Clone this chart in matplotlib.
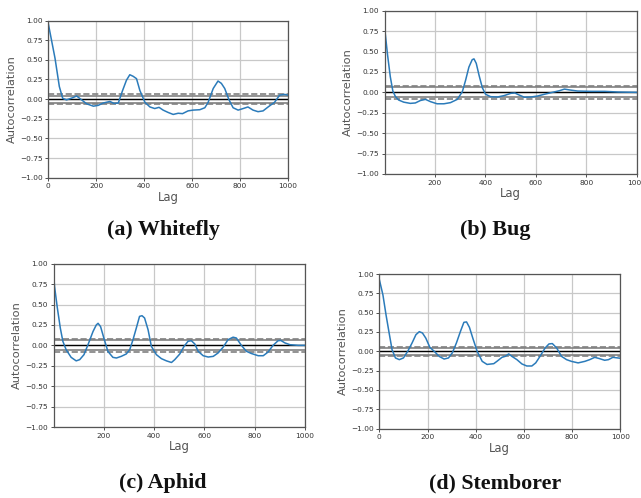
import numpy as np
import matplotlib
matplotlib.use("Agg")
import matplotlib.pyplot as plt

# ---------------- data ----------------
captions = ["(a) Whitefly", "(b) Bug", "(c) Aphid", "(d) Stemborer"]

lag_a = [0, 28, 46, 60, 76, 104, 118, 139, 160, 188, 208, 229, 257, 274, 292, 310, 326, 340,
         354, 368, 382, 403, 424, 444, 462, 479, 500, 521, 542, 560, 583, 604, 632, 653, 667,
         688, 708, 722, 736, 754, 771, 792, 813, 833, 854, 875, 896, 917, 944, 965, 986, 1000]
acf_a = [0.96, 0.52, 0.16, 0.01, -0.01, 0.02, 0.04, -0.01, -0.06, -0.09, -0.08, -0.05, -0.03,
         -0.055, -0.05, 0.11, 0.24, 0.31, 0.29, 0.26, 0.11, -0.04, -0.10, -0.12, -0.105, -0.14,
         -0.17, -0.195, -0.18, -0.185, -0.15, -0.14, -0.135, -0.11, -0.04, 0.135, 0.23, 0.20,
         0.135, -0.01, -0.11, -0.14, -0.12, -0.10, -0.14, -0.16, -0.15, -0.10, -0.04, 0.05,
         0.06, 0.05]

lag_b = [1, 4, 13, 24, 34, 44, 57, 77, 103, 123, 143, 163, 183, 209, 236, 262, 289, 309, 322,
         335, 348, 355, 364, 375, 388, 401, 421, 448, 474, 501, 517, 534, 554, 580, 607, 633,
         660, 693, 713, 732, 765, 818, 872, 925, 1000]
acf_b = [0.845, 0.72, 0.46, 0.19, 0.016, -0.05, -0.094, -0.12, -0.135, -0.13, -0.10, -0.086,
         -0.114, -0.14, -0.14, -0.126, -0.086, 0.008, 0.15, 0.31, 0.40, 0.41, 0.355, 0.21,
         0.057, -0.024, -0.053, -0.057, -0.04, -0.012, -0.008, -0.033, -0.06, -0.057, -0.045,
         -0.024, -0.004, 0.02, 0.04, 0.03, 0.016, 0.012, 0.012, 0.004, 0.0]

lag_c = [1, 4, 15, 27, 37, 50, 70, 90, 104, 121, 137, 157, 170, 177, 187, 200, 216, 236, 250,
         269, 289, 303, 316, 329, 342, 352, 362, 376, 389, 409, 429, 449, 469, 482, 502, 519,
         535, 548, 562, 575, 595, 615, 635, 654, 674, 694, 714, 727, 747, 767, 787, 814, 834,
         853, 873, 893, 904, 920, 940, 973, 1000]
acf_c = [0.845, 0.72, 0.46, 0.21, 0.05, -0.053, -0.147, -0.19, -0.175, -0.114, 0.008, 0.17,
         0.25, 0.27, 0.23, 0.09, -0.073, -0.147, -0.155, -0.135, -0.106, -0.053, 0.07, 0.21,
         0.355, 0.363, 0.335, 0.19, -0.012, -0.114, -0.163, -0.19, -0.21, -0.175, -0.106,
         -0.012, 0.05, 0.057, 0.016, -0.073, -0.127, -0.143, -0.135, -0.094, -0.024, 0.07,
         0.10, 0.09, 0.0, -0.073, -0.10, -0.127, -0.127, -0.082, 0.0, 0.057, 0.06, 0.03, 0.008,
         0.0, 0.0]

lag_d = [0, 15, 28, 42, 53, 67, 83, 100, 118, 136, 152, 166, 179, 193, 210, 228, 248, 269, 287,
         303, 320, 337, 351, 362, 374, 388, 406, 427, 447, 475, 488, 509, 523, 537, 550, 571,
         592, 612, 633, 649, 667, 688, 704, 718, 736, 756, 777, 797, 825, 853, 873, 894, 914,
         935, 951, 969, 1000]
acf_d = [0.93, 0.73, 0.47, 0.215, 0.02, -0.086, -0.108, -0.086, 0.0, 0.108, 0.215, 0.254,
         0.237, 0.17, 0.05, 0.0, -0.065, -0.10, -0.086, -0.02, 0.108, 0.26, 0.375, 0.38, 0.31,
         0.17, 0.0, -0.13, -0.17, -0.16, -0.13, -0.078, -0.065, -0.034, -0.065, -0.108, -0.164,
         -0.19, -0.19, -0.15, -0.065, 0.043, 0.095, 0.10, 0.043, -0.065, -0.108, -0.13, -0.15,
         -0.13, -0.108, -0.078, -0.095, -0.116, -0.108, -0.078, -0.09]

# number of observations behind each series (sets the confidence bands)
n_obs = [1900, 1040, 1040, 2200]
x_start = [0, 1, 1, 0]
x_end = [1000, 1000, 1000, 1000]

lags = [lag_a, lag_b, lag_c, lag_d]
acfs = [acf_a, acf_b, acf_c, acf_d]

# ---------------- layout ----------------
W, H = 641, 498
fig = plt.figure(figsize=(W / 100, H / 100), dpi=100)

axes_px = [  # left, top, right, bottom in pixels
    (48.3, 20.5, 288.0, 177.7),
    (384.5, 10.7, 637.0, 174.0),
    (53.8, 263.7, 305.0, 427.0),
    (379.3, 274.0, 620.3, 428.6),
]
caption_px = [(163, 230), (495.5, 230), (163, 483), (495, 483)]

z95, z99 = 1.959963984540054, 2.5758293035489004

for i in range(4):
    l, t, r, b = axes_px[i]
    ax = fig.add_axes([l / W, 1 - b / H, (r - l) / W, (b - t) / H])
    n = n_obs[i]
    ax.axhline(z99 / np.sqrt(n), linestyle="--", color="grey", lw=1.2)
    ax.axhline(z95 / np.sqrt(n), color="grey", lw=1.2)
    ax.axhline(0.0, color="black", lw=1.0)
    ax.axhline(-z95 / np.sqrt(n), color="grey", lw=1.2)
    ax.axhline(-z99 / np.sqrt(n), linestyle="--", color="grey", lw=1.2)
    ax.plot(lags[i], acfs[i], color="#2b7bba", lw=1.1)
    ax.set_ylim(-1.0, 1.0)
    ax.set_xticks([0, 200, 400, 600, 800, 1000])
    ax.set_yticks(np.linspace(-1, 1, 9))
    ax.set_yticklabels([f"{v:.2f}".replace("-", "\u2212") for v in np.linspace(-1, 1, 9)])
    ax.set_xlim(x_start[i], x_end[i])
    ax.grid(True, color="#c8c8c8", lw=0.9)
    ax.set_axisbelow(True)
    ax.tick_params(labelsize=5.3, length=2.5, width=0.6, pad=1.5, colors="#333333")
    for s in ax.spines.values():
        s.set_color("#555555")
        s.set_linewidth(0.9)
    ax.set_xlabel("Lag", fontsize=8.4, color="#555555", labelpad=1)
    ax.set_ylabel("Autocorrelation", fontsize=8.2, color="#555555", labelpad=2.5)
    cx, cy = caption_px[i]
    fig.text(cx / W, 1 - cy / H, captions[i], ha="center", va="center",
             fontsize=15.8, fontweight="bold", family="Liberation Serif", color="#111111")

fig.savefig("out.png", dpi=100)
